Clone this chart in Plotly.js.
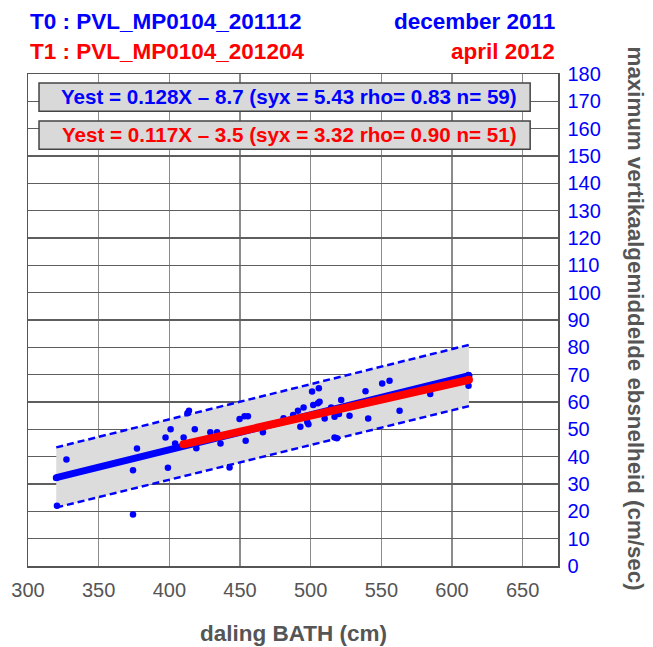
<!DOCTYPE html>
<html>
<head>
<meta charset="utf-8">
<script src="https://cdn.plot.ly/plotly-3.0.1.min.js"></script>
<style>html,body{margin:0;padding:0;background:#fff;}#chart{width:653px;height:647px;}</style>
</head>
<body>
<div id="chart"></div>
<script>
// T0 measured points (daling BATH cm, max vertikaalgemiddelde ebsnelheid cm/sec)
const pointsX = [320.5,327.2,374.3,374.3,377.1,397.3,399.0,400.9,404.1,410.1,413.9,412.8,418.0,419.1,429.0,433.8,436.2,442.6,449.7,453.2,455.6,454.0,466.2,480.8,487.6,491.0,495.0,492.7,498.4,497.6,501.0,505.8,501.8,505.1,506.3,509.9,514.5,516.9,520.0,516.9,518.6,521.6,527.5,538.8,540.7,550.6,555.8,562.9,584.6,611.7,611.7];
const pointsY = [22.0,39.0,35.0,18.8,43.0,47.0,35.9,50.0,44.8,47.0,56.8,55.9,50.0,43.1,48.9,48.9,44.8,36.0,53.8,54.8,54.8,45.8,48.9,54.1,55.2,56.8,58.0,50.9,51.9,52.7,63.8,65.0,58.9,59.5,60.1,54.0,58.0,54.6,55.6,47.0,46.7,60.7,55.0,63.9,54.0,66.8,67.8,56.8,62.9,69.9,65.9];

// regression lines and band (endpoints)
const blueFitX = [320, 612];
const blueFitY = [32.3, 69.6];
const redFitX = [410, 612];
const redFitY = [44.5, 68.1];
const bandX = [320, 612];
const bandUpper = [43.4, 80.9];
const bandLower = [21.4, 58.5];

// texts
const titleT0 = "T0 : PVL_MP0104_201112";
const titleT1 = "T1 : PVL_MP0104_201204";
const dateT0 = "december 2011";
const dateT1 = "april 2012";
const eqT0 = "Yest = 0.128X \u2013 8.7 (syx = 5.43 rho= 0.83 n= 59)";
const eqT1 = "Yest = 0.117X \u2013 3.5 (syx = 3.32 rho= 0.90 n= 51)";
const xTitle = "daling BATH (cm)";
const yTitle = "maximum vertikaalgemiddelde ebsnelheid (cm/sec)";
const xTicks = [300,350,400,450,500,550,600,650];
const yTicks = [0,10,20,30,40,50,60,70,80,90,100,110,120,130,140,150,160,170,180];

const FONT = "Liberation Sans, Arial, sans-serif";
const BLUE = "#0000ff", RED = "#ff0000", GREY = "#555555";

const traces = [
  {x: bandX, y: bandLower, mode: "lines", line: {color: BLUE, width: 2.5, dash: "7px,4px"}, hoverinfo: "skip"},
  {x: bandX, y: bandUpper, mode: "lines", fill: "tonexty", fillcolor: "#dcdcdc", line: {color: BLUE, width: 2.5, dash: "7px,4px"}, hoverinfo: "skip"},
  {x: pointsX, y: pointsY, mode: "markers", marker: {color: BLUE, size: 6.5}, hoverinfo: "skip"},
  {x: blueFitX, y: blueFitY, mode: "lines", line: {color: BLUE, width: 7}, hoverinfo: "skip"},
  {x: blueFitX, y: blueFitY, mode: "markers", marker: {color: BLUE, size: 7}, hoverinfo: "skip"},
  {x: redFitX, y: redFitY, mode: "lines", line: {color: RED, width: 8}, hoverinfo: "skip"},
  {x: redFitX, y: redFitY, mode: "markers", marker: {color: RED, size: 8}, hoverinfo: "skip"}
];

const layout = {
  width: 653, height: 647,
  margin: {l: 28.3, r: 94.7, t: 74.3, b: 81.3, pad: 0},
  paper_bgcolor: "#ffffff", plot_bgcolor: "#ffffff",
  showlegend: false,
  font: {family: FONT},
  xaxis: {
    range: [300, 675], tickvals: xTicks, ticktext: xTicks.map(String),
    showgrid: true, gridcolor: "#8c8c8c", gridwidth: 1.6,
    zeroline: false, showline: true, linecolor: GREY, linewidth: 1.5, mirror: true,
    ticks: "", tickfont: {family: FONT, size: 20, color: GREY}, ticklabelstandoff: 5,
    fixedrange: true
  },
  yaxis: {
    range: [0, 180], side: "right", tickvals: yTicks, ticktext: yTicks.map(String),
    showgrid: true, gridcolor: "#5e5e5e", gridwidth: 1.6,
    zeroline: false, showline: true, linecolor: GREY, linewidth: 1.5, mirror: true,
    ticks: "", tickfont: {family: FONT, size: 20, color: BLUE}, ticklabelstandoff: 4,
    fixedrange: true
  },
  shapes: [
    {type: "rect", xref: "x", yref: "y", x0: 307.8, x1: 655.3, y0: 166.4, y1: 176.7, fillcolor: "#d9d9d9", line: {color: "#444444", width: 1.5}, layer: "above"},
    {type: "rect", xref: "x", yref: "y", x0: 307.8, x1: 655.3, y0: 152.5, y1: 162.8, fillcolor: "#d9d9d9", line: {color: "#444444", width: 1.5}, layer: "above"}
  ],
  annotations: [
    {xref: "x", yref: "y", x: 485, y: 171.6, text: "<b>" + eqT0 + "</b>", showarrow: false, font: {family: FONT, size: 20.6, color: BLUE}, xanchor: "center", yanchor: "middle"},
    {xref: "x", yref: "y", x: 485, y: 157.7, text: "<b>" + eqT1 + "</b>", showarrow: false, font: {family: FONT, size: 20.6, color: RED}, xanchor: "center", yanchor: "middle"},
    {xref: "paper", yref: "paper", x: 0, y: 1.107, text: "<b>" + titleT0 + "</b>", showarrow: false, font: {family: FONT, size: 22.5, color: BLUE}, xanchor: "left", yanchor: "middle"},
    {xref: "paper", yref: "paper", x: 0, y: 1.046, text: "<b>" + titleT1 + "</b>", showarrow: false, font: {family: FONT, size: 22.5, color: RED}, xanchor: "left", yanchor: "middle"},
    {xref: "paper", yref: "paper", x: 0.9975, y: 1.107, text: "<b>" + dateT0 + "</b>", showarrow: false, font: {family: FONT, size: 22.5, color: BLUE}, xanchor: "right", yanchor: "middle"},
    {xref: "paper", yref: "paper", x: 0.9975, y: 1.046, text: "<b>" + dateT1 + "</b>", showarrow: false, font: {family: FONT, size: 22.5, color: RED}, xanchor: "right", yanchor: "middle"},
    {xref: "paper", yref: "paper", x: 0.5, y: -0.137, text: "<b>" + xTitle + "</b>", showarrow: false, font: {family: FONT, size: 22.5, color: GREY}, xanchor: "center", yanchor: "middle"},
    {xref: "paper", yref: "paper", x: 1.148, y: 0.502, text: "<b>" + yTitle + "</b>", showarrow: false, textangle: 90, font: {family: FONT, size: 22.3, color: GREY}, xanchor: "center", yanchor: "middle"}
  ]
};

Plotly.newPlot("chart", traces, layout, {staticPlot: true, displayModeBar: false});
</script>
</body>
</html>
